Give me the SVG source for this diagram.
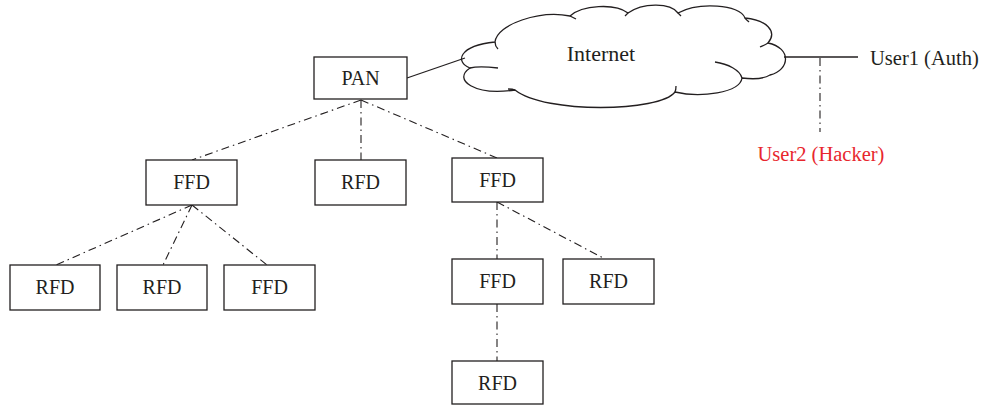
<svg xmlns="http://www.w3.org/2000/svg" width="983" height="406" viewBox="0 0 983 406">
<style>
.box{fill:#fff;stroke:#231f20;stroke-width:1.3}
.t{font-family:"Liberation Serif","Times New Roman",serif;font-size:20px;fill:#231f20;text-anchor:middle}
.solid{stroke:#231f20;stroke-width:1.3;fill:none}
.dd{stroke:#231f20;stroke-width:1.1;fill:none;stroke-dasharray:8 4 1.5 4}
</style>
<rect width="983" height="406" fill="#fff"/>
<g id="connectors">
<line class="solid" x1="407" y1="78" x2="465" y2="58"/>
<line class="solid" x1="784" y1="57" x2="858" y2="57"/>
<line class="dd" x1="820" y1="58" x2="820" y2="132"/>
<line class="dd" x1="361" y1="100" x2="192" y2="160"/>
<line class="dd" x1="361" y1="100" x2="361" y2="160"/>
<line class="dd" x1="361" y1="100" x2="497" y2="158"/>
<line class="dd" x1="192" y1="205" x2="56" y2="265"/>
<line class="dd" x1="192" y1="205" x2="163" y2="265"/>
<line class="dd" x1="192" y1="205" x2="267" y2="265"/>
<line class="dd" x1="497" y1="202" x2="497" y2="259"/>
<line class="dd" x1="497" y1="202" x2="605" y2="259"/>
<line class="dd" x1="497" y1="304" x2="497" y2="361"/>
</g>
<g id="internet">
<path class="solid" fill="#fff" d="M 470,68 C 455,62 458,46 495,42 C 497,24 540,10 570,16 C 582,5 615,3 628,13 C 642,3 670,2 678,13 C 698,2 740,4 745,18 C 766,20 778,31 768,43 C 792,48 790,70 770,75 C 762,80 750,79 742,78 C 740,93 700,98 675,92 C 660,112 545,114 515,90 C 475,96 452,80 470,68 Z"/>
<path class="solid" d="M 495,42 C 495,45 496,47 498,49"/>
<path class="solid" d="M 570,16 C 572,17 574,18 576,19"/>
<path class="solid" d="M 628,13 C 627,14 626,15 625,16"/>
<path class="solid" d="M 678,13 C 679,14 680,15 681,16"/>
<path class="solid" d="M 745,18 C 746,20 748,21 749,22"/>
<path class="solid" d="M 768,43 C 765,45 762,46 760,47"/>
<path class="solid" d="M 742,78 C 740,70 728,64 715,62"/>
<path class="solid" d="M 675,92 C 676,90 676,88 676,86"/>
<path class="solid" d="M 515,90 C 513,89 511,89 508,89"/>
<path class="solid" d="M 470,68 C 478,66 489,67 498,68"/>
<text class="t" x="601" y="61" style="font-size:22px">Internet</text>
</g>
<g id="user1"><text class="t" x="870" y="65" style="text-anchor:start;font-size:20.5px">User1 (Auth)</text></g>
<g id="user2"><text class="t" x="821" y="161" style="fill:#e8262d;font-size:20.5px">User2 (Hacker)</text></g>
<g id="pan"><rect class="box" x="314" y="57" width="93" height="42"/><text class="t" x="360.5" y="85">PAN</text></g>
<g id="ffd1"><rect class="box" x="146" y="160" width="91" height="45"/><text class="t" x="191.5" y="189">FFD</text></g>
<g id="rfd_mid"><rect class="box" x="315" y="160" width="91" height="45"/><text class="t" x="360.5" y="189">RFD</text></g>
<g id="ffd2"><rect class="box" x="452" y="158" width="91" height="44"/><text class="t" x="497.5" y="187">FFD</text></g>
<g id="rfd1"><rect class="box" x="10" y="265" width="90" height="45"/><text class="t" x="55" y="294">RFD</text></g>
<g id="rfd2"><rect class="box" x="117" y="265" width="90" height="45"/><text class="t" x="162" y="294">RFD</text></g>
<g id="ffd4"><rect class="box" x="224" y="265" width="91" height="45"/><text class="t" x="269.5" y="294">FFD</text></g>
<g id="ffd3"><rect class="box" x="452" y="259" width="91" height="45"/><text class="t" x="497.5" y="288">FFD</text></g>
<g id="rfd3"><rect class="box" x="563" y="259" width="91" height="45"/><text class="t" x="608.5" y="288">RFD</text></g>
<g id="rfd4"><rect class="box" x="452" y="361" width="91" height="43"/><text class="t" x="497.5" y="390">RFD</text></g>
</svg>
